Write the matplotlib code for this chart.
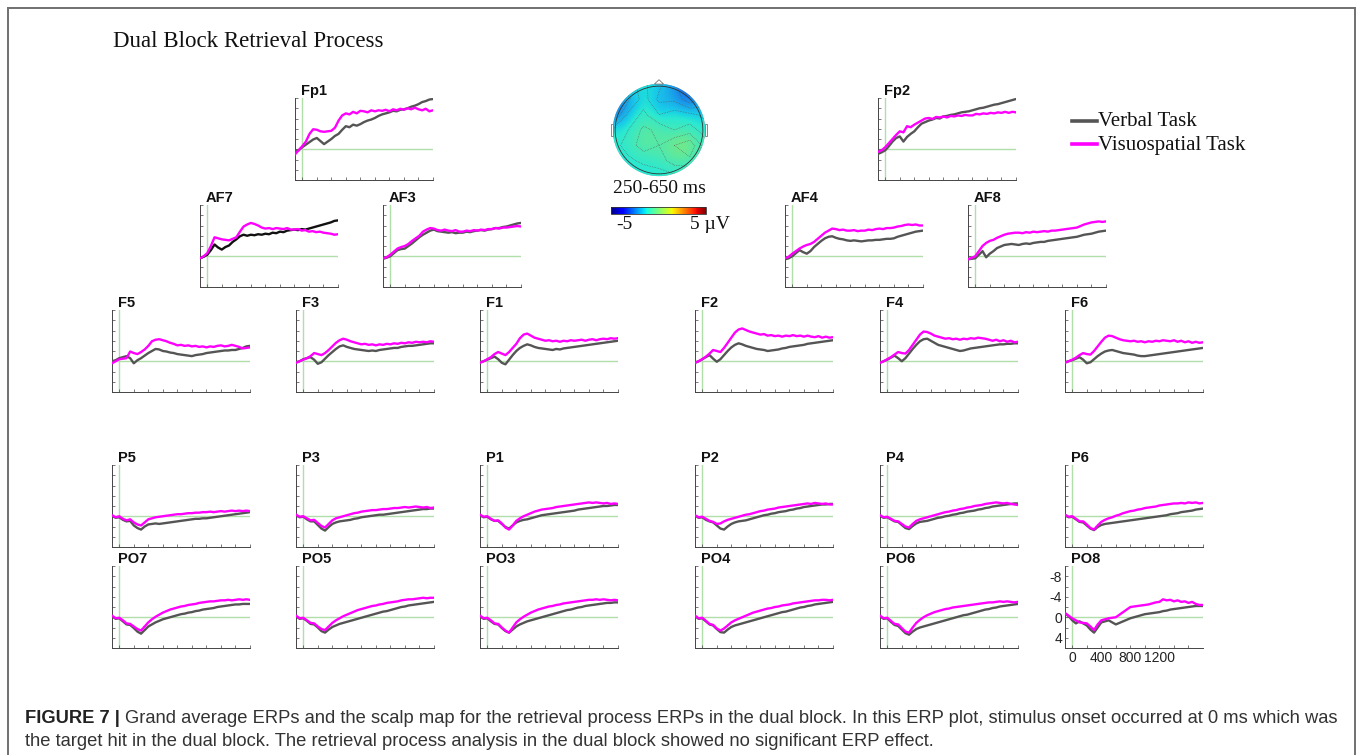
import numpy as np
import matplotlib
matplotlib.use("Agg")
import matplotlib.pyplot as plt
from matplotlib.lines import Line2D
from matplotlib.patches import Circle, Polygon, Rectangle

# ---------------------------------------------------------------- data
# sample times (ms) of the grand-average waveforms
time_ms = np.arange(-100, 1801, 50)

fp1_verbal = [0.4, 0.2, -0.4, -0.9, -1.4, -1.9, -2.2, -1.6, -1.0, -1.5, -2.0, -2.6, -3.0, -3.8, -4.5, -4.3, -4.8, -4.6, -4.9, -5.3, -5.6, -5.8, -6.1, -6.5, -6.8, -7.0, -7.2, -7.5, -7.4, -7.7, -7.8, -8.0, -8.3, -8.5, -8.8, -9.2, -9.4, -9.7, -9.8]
fp1_visuo = [1.0, 0.2, -0.6, -1.5, -3.0, -3.9, -3.8, -3.5, -3.4, -3.5, -3.6, -4.2, -5.6, -6.6, -7.0, -6.8, -7.3, -7.0, -7.5, -7.4, -7.2, -7.6, -7.4, -7.6, -7.5, -7.7, -7.4, -7.8, -7.6, -7.9, -7.7, -8.0, -7.8, -8.1, -7.8, -7.6, -7.9, -7.4, -7.6]

fp2_verbal = [0.9, 0.6, 0.2, -0.6, -1.5, -2.2, -2.5, -1.5, -2.4, -3.0, -3.5, -4.3, -5.0, -5.3, -5.6, -5.8, -6.1, -6.0, -6.4, -6.5, -6.7, -6.8, -7.0, -7.2, -7.3, -7.4, -7.6, -7.8, -8.0, -8.1, -8.3, -8.5, -8.7, -8.8, -9.0, -9.2, -9.4, -9.6, -9.8]
fp2_visuo = [0.5, 0.2, -0.4, -1.2, -2.0, -2.8, -3.5, -3.3, -4.5, -4.3, -4.8, -5.2, -5.6, -6.0, -6.1, -5.9, -6.3, -6.2, -6.4, -6.2, -6.5, -6.4, -6.6, -6.5, -6.7, -6.6, -6.6, -6.9, -6.8, -7.0, -6.9, -7.1, -7.0, -7.2, -7.1, -7.3, -7.1, -7.3, -7.2]

af7_verbal = [0.4, 0.1, -0.3, -1.2, -2.3, -1.7, -1.3, -1.8, -2.1, -2.8, -3.3, -3.9, -4.2, -4.0, -4.2, -4.1, -4.3, -4.2, -4.4, -4.3, -4.6, -4.5, -4.8, -4.7, -5.0, -5.1, -5.2, -5.1, -5.3, -5.2, -5.4, -5.6, -5.8, -6.0, -6.2, -6.4, -6.6, -6.9, -7.0]
af7_visuo = [0.4, 0.0, -0.6, -2.0, -3.7, -3.5, -3.3, -3.2, -3.1, -3.4, -3.7, -4.8, -5.8, -6.2, -6.5, -6.3, -6.0, -5.6, -5.4, -5.5, -5.3, -5.5, -5.4, -5.3, -5.5, -5.2, -5.2, -5.3, -5.0, -5.1, -4.8, -4.9, -4.7, -4.8, -4.6, -4.5, -4.4, -4.2, -4.3]

af3_verbal = [0.5, 0.3, 0.0, -0.6, -1.2, -1.4, -1.5, -2.0, -2.5, -3.1, -3.7, -4.2, -4.6, -5.0, -5.2, -4.9, -4.8, -4.7, -4.6, -4.7, -4.5, -4.6, -4.6, -4.8, -4.7, -4.9, -5.0, -5.1, -5.0, -5.2, -5.3, -5.5, -5.5, -5.7, -5.8, -6.0, -6.2, -6.4, -6.5]
af3_visuo = [0.4, 0.2, -0.3, -0.9, -1.5, -1.8, -2.0, -2.4, -3.0, -3.5, -4.0, -4.8, -5.2, -5.5, -5.4, -5.1, -5.0, -5.2, -5.0, -4.9, -5.1, -4.8, -4.8, -5.0, -4.9, -5.1, -5.0, -5.2, -5.1, -5.3, -5.3, -5.5, -5.4, -5.6, -5.6, -5.7, -5.8, -5.9, -5.8]

af4_verbal = [0.6, 0.4, 0.0, -0.6, -1.2, -0.8, -0.5, -1.0, -1.8, -2.4, -3.0, -3.5, -3.8, -3.9, -3.6, -3.4, -3.3, -3.1, -3.0, -3.1, -3.0, -2.9, -3.0, -3.1, -3.1, -3.2, -3.2, -3.3, -3.4, -3.4, -3.5, -3.8, -4.0, -4.2, -4.4, -4.6, -4.8, -4.9, -5.0]
af4_visuo = [0.4, 0.1, -0.5, -1.0, -1.5, -1.9, -2.2, -2.4, -2.8, -3.4, -4.0, -4.6, -5.0, -5.4, -5.3, -5.1, -5.2, -5.0, -5.0, -5.1, -4.9, -5.0, -5.0, -5.2, -5.1, -5.3, -5.4, -5.3, -5.5, -5.5, -5.6, -5.8, -5.9, -6.1, -6.2, -6.1, -6.2, -6.0, -6.0]

af8_verbal = [0.6, 0.5, 0.4, -0.3, -1.0, 0.2, -0.5, -1.0, -1.6, -1.9, -2.2, -2.3, -2.4, -2.3, -2.2, -2.4, -2.5, -2.4, -2.6, -2.7, -2.8, -2.8, -3.0, -3.1, -3.2, -3.3, -3.4, -3.5, -3.6, -3.7, -3.8, -4.0, -4.2, -4.3, -4.4, -4.6, -4.8, -4.9, -5.0]
af8_visuo = [0.6, 0.3, 0.0, -1.0, -2.0, -2.6, -3.0, -3.2, -3.6, -3.9, -4.2, -4.4, -4.5, -4.6, -4.6, -4.5, -4.7, -4.6, -4.8, -4.7, -4.8, -4.9, -4.8, -5.0, -5.0, -5.1, -5.2, -5.3, -5.4, -5.5, -5.6, -5.9, -6.2, -6.4, -6.6, -6.7, -6.8, -6.7, -6.8]

f5_verbal = [0.0, -0.2, -0.6, -0.8, -1.0, -0.6, 0.4, -0.2, -0.6, -1.1, -1.6, -2.0, -2.4, -2.3, -2.0, -1.9, -1.7, -1.6, -1.4, -1.3, -1.2, -1.1, -1.0, -1.2, -1.3, -1.4, -1.6, -1.7, -1.8, -1.9, -2.0, -2.1, -2.1, -2.2, -2.2, -2.4, -2.6, -2.9, -3.0]
f5_visuo = [0.4, 0.0, -0.4, -0.5, -0.6, -1.9, -1.6, -1.4, -1.8, -2.3, -3.0, -3.9, -4.2, -4.3, -4.1, -3.9, -3.6, -3.4, -3.1, -3.2, -3.0, -3.1, -2.9, -3.0, -2.8, -2.9, -2.7, -2.9, -2.8, -3.0, -3.1, -2.9, -3.0, -3.2, -3.0, -2.8, -2.5, -2.6, -2.7]

f3_verbal = [0.2, 0.0, -0.4, -0.6, -0.8, -0.3, 0.5, 0.2, -0.5, -1.2, -1.8, -2.4, -2.9, -3.1, -2.8, -2.6, -2.4, -2.3, -2.2, -2.1, -2.0, -2.1, -2.0, -2.2, -2.3, -2.4, -2.5, -2.6, -2.6, -2.8, -2.9, -3.0, -3.0, -3.1, -3.2, -3.3, -3.4, -3.5, -3.5]
f3_visuo = [0.3, 0.0, -0.3, -0.6, -1.0, -1.6, -1.4, -1.2, -1.6, -2.2, -2.9, -3.6, -4.1, -4.4, -4.2, -3.9, -3.7, -3.5, -3.3, -3.4, -3.2, -3.3, -3.1, -3.3, -3.2, -3.4, -3.3, -3.5, -3.4, -3.6, -3.5, -3.7, -3.6, -3.8, -3.7, -3.8, -3.7, -3.9, -3.8]

f1_verbal = [0.2, 0.0, -0.3, -0.6, -0.9, -0.4, 0.3, 0.6, -0.3, -1.2, -2.0, -2.6, -3.0, -3.3, -3.1, -2.8, -2.6, -2.5, -2.4, -2.3, -2.2, -2.4, -2.3, -2.5, -2.6, -2.7, -2.8, -2.9, -3.0, -3.1, -3.2, -3.3, -3.4, -3.5, -3.6, -3.7, -3.8, -3.9, -4.0]
f1_visuo = [0.3, 0.0, -0.4, -0.8, -1.4, -1.8, -1.5, -1.2, -1.8, -2.6, -3.4, -4.5, -5.2, -5.4, -5.0, -4.6, -4.4, -4.2, -4.0, -4.1, -3.9, -4.0, -3.8, -4.0, -3.9, -4.1, -4.0, -4.1, -4.2, -4.0, -4.2, -4.3, -4.1, -4.3, -4.4, -4.3, -4.5, -4.4, -4.5]

f2_verbal = [0.3, 0.0, -0.4, -0.8, -1.2, -0.5, 0.1, -0.4, -1.2, -2.0, -2.7, -3.2, -3.5, -3.3, -3.0, -2.8, -2.6, -2.4, -2.3, -2.2, -2.0, -2.1, -2.2, -2.3, -2.5, -2.6, -2.8, -2.9, -3.0, -3.1, -3.2, -3.4, -3.5, -3.6, -3.7, -3.8, -3.9, -4.0, -4.1]
f2_visuo = [0.3, 0.0, -0.4, -0.9, -1.5, -2.2, -2.0, -1.8, -2.6, -3.6, -4.6, -5.6, -6.2, -6.4, -6.1, -5.8, -5.6, -5.4, -5.2, -5.3, -5.0, -5.1, -4.9, -5.0, -4.8, -5.0, -4.9, -5.1, -4.9, -5.0, -4.8, -5.0, -4.8, -4.7, -4.9, -4.6, -4.8, -4.6, -4.7]

f4_verbal = [0.3, 0.0, -0.3, -0.7, -1.1, -0.6, 0.0, -0.6, -1.5, -2.4, -3.2, -3.9, -4.3, -4.4, -4.0, -3.6, -3.2, -3.0, -2.8, -2.6, -2.4, -2.2, -2.0, -2.1, -2.3, -2.5, -2.6, -2.7, -2.8, -2.9, -3.0, -3.1, -3.2, -3.3, -3.3, -3.4, -3.4, -3.5, -3.5]
f4_visuo = [0.3, 0.0, -0.4, -0.8, -1.3, -1.8, -1.6, -1.5, -2.2, -3.2, -4.2, -5.2, -5.8, -5.7, -5.4, -5.0, -4.8, -4.6, -4.4, -4.5, -4.3, -4.4, -4.2, -4.4, -4.3, -4.5, -4.4, -4.6, -4.5, -4.4, -4.2, -4.0, -4.2, -3.9, -4.1, -3.8, -4.0, -3.7, -3.8]

f6_verbal = [0.2, 0.0, -0.2, -0.5, -0.8, -0.3, 0.4, 0.2, -0.4, -1.0, -1.5, -1.9, -2.1, -2.2, -2.0, -1.8, -1.6, -1.5, -1.4, -1.3, -1.1, -1.0, -1.0, -1.1, -1.2, -1.3, -1.4, -1.5, -1.6, -1.7, -1.8, -1.9, -2.0, -2.1, -2.2, -2.3, -2.4, -2.5, -2.6]
f6_visuo = [0.3, 0.0, -0.3, -0.7, -1.2, -1.6, -1.4, -1.3, -2.0, -2.9, -3.8, -4.6, -5.0, -4.9, -4.6, -4.3, -4.1, -4.0, -3.9, -4.0, -3.8, -3.9, -3.7, -3.9, -3.8, -4.0, -3.9, -4.1, -4.0, -3.9, -4.1, -3.8, -4.0, -3.7, -3.9, -3.6, -3.8, -3.6, -3.7]

p5_verbal = [-0.1, 0.3, 0.2, 0.7, 1.0, 0.9, 1.8, 2.3, 2.6, 2.0, 1.6, 1.5, 1.4, 1.5, 1.4, 1.3, 1.2, 1.1, 1.0, 0.9, 0.8, 0.7, 0.6, 0.5, 0.5, 0.4, 0.4, 0.3, 0.2, 0.1, 0.0, -0.1, -0.2, -0.3, -0.4, -0.5, -0.6, -0.7, -0.8]
p5_visuo = [-0.2, 0.2, 0.0, 0.5, 0.8, 0.6, 1.2, 1.6, 1.8, 1.2, 0.6, 0.4, 0.2, 0.1, 0.0, -0.1, -0.2, -0.3, -0.4, -0.4, -0.5, -0.6, -0.6, -0.7, -0.7, -0.8, -0.8, -0.9, -0.8, -0.9, -1.0, -0.9, -1.0, -1.1, -1.0, -1.1, -1.0, -1.1, -1.0]

p3_verbal = [-0.2, 0.2, 0.1, 0.6, 1.0, 1.0, 1.7, 2.4, 2.8, 2.1, 1.5, 1.2, 1.0, 0.9, 0.8, 0.7, 0.5, 0.4, 0.2, 0.1, 0.0, -0.1, -0.2, -0.3, -0.3, -0.4, -0.5, -0.6, -0.7, -0.8, -0.9, -1.0, -1.1, -1.2, -1.3, -1.4, -1.4, -1.5, -1.5]
p3_visuo = [-0.3, 0.1, 0.0, 0.4, 0.8, 0.7, 1.3, 1.9, 2.2, 1.5, 0.8, 0.4, 0.2, 0.0, -0.2, -0.4, -0.6, -0.7, -0.9, -1.0, -1.1, -1.2, -1.2, -1.3, -1.4, -1.4, -1.5, -1.6, -1.6, -1.7, -1.8, -1.7, -1.8, -1.9, -1.8, -1.7, -1.8, -1.6, -1.7]

p1_verbal = [-0.2, 0.2, 0.1, 0.6, 0.9, 0.9, 1.5, 2.1, 2.4, 1.8, 1.2, 0.9, 0.7, 0.6, 0.4, 0.2, 0.0, -0.2, -0.3, -0.4, -0.5, -0.6, -0.7, -0.8, -0.9, -1.0, -1.1, -1.3, -1.4, -1.5, -1.6, -1.7, -1.8, -1.9, -2.0, -2.0, -2.1, -2.2, -2.2]
p1_visuo = [-0.3, 0.1, 0.0, 0.5, 0.9, 0.8, 1.4, 2.2, 2.6, 1.8, 0.9, 0.4, 0.0, -0.3, -0.6, -0.9, -1.1, -1.3, -1.4, -1.5, -1.6, -1.8, -1.9, -2.0, -2.1, -2.2, -2.3, -2.4, -2.5, -2.6, -2.7, -2.6, -2.7, -2.6, -2.5, -2.6, -2.4, -2.5, -2.4]

p2_verbal = [-0.1, 0.3, 0.2, 0.7, 1.0, 1.2, 1.8, 2.4, 2.6, 2.0, 1.5, 1.2, 1.0, 0.9, 0.8, 0.6, 0.4, 0.2, 0.0, -0.2, -0.3, -0.5, -0.6, -0.8, -0.9, -1.0, -1.2, -1.3, -1.5, -1.6, -1.8, -1.9, -2.0, -2.1, -2.2, -2.3, -2.3, -2.4, -2.4]
p2_visuo = [-0.2, 0.2, 0.1, 0.5, 0.9, 1.1, 1.5, 1.4, 1.0, 0.7, 0.5, 0.3, 0.1, -0.1, -0.3, -0.4, -0.6, -0.8, -1.0, -1.1, -1.3, -1.4, -1.5, -1.7, -1.8, -1.9, -2.0, -2.1, -2.2, -2.3, -2.4, -2.5, -2.4, -2.6, -2.5, -2.4, -2.5, -2.3, -2.3]

p4_verbal = [-0.1, 0.3, 0.2, 0.6, 1.0, 1.1, 1.7, 2.3, 2.5, 1.9, 1.4, 1.1, 1.0, 0.9, 0.7, 0.5, 0.3, 0.2, 0.0, -0.1, -0.3, -0.4, -0.6, -0.7, -0.9, -1.0, -1.1, -1.3, -1.4, -1.6, -1.7, -1.9, -2.0, -2.1, -2.2, -2.3, -2.4, -2.5, -2.5]
p4_visuo = [-0.2, 0.2, 0.1, 0.5, 0.9, 1.0, 1.5, 2.0, 2.2, 1.5, 0.9, 0.6, 0.4, 0.2, 0.0, -0.2, -0.4, -0.6, -0.8, -0.9, -1.1, -1.2, -1.4, -1.5, -1.7, -1.8, -2.0, -2.1, -2.2, -2.4, -2.5, -2.6, -2.7, -2.6, -2.5, -2.6, -2.4, -2.3, -2.2]

p6_verbal = [-0.2, 0.2, 0.1, 0.6, 1.1, 1.2, 1.8, 2.4, 2.7, 2.1, 1.7, 1.5, 1.4, 1.3, 1.2, 1.1, 1.0, 0.9, 0.8, 0.7, 0.6, 0.5, 0.4, 0.3, 0.2, 0.1, 0.0, -0.1, -0.2, -0.4, -0.5, -0.6, -0.8, -0.9, -1.0, -1.1, -1.3, -1.4, -1.5]
p6_visuo = [-0.3, 0.1, 0.0, 0.5, 1.0, 1.0, 1.6, 2.3, 2.6, 1.8, 1.1, 0.7, 0.4, 0.2, -0.1, -0.3, -0.6, -0.8, -1.0, -1.1, -1.3, -1.4, -1.6, -1.7, -1.8, -1.9, -2.1, -2.2, -2.3, -2.4, -2.5, -2.5, -2.6, -2.5, -2.7, -2.6, -2.7, -2.5, -2.6]

po7_verbal = [-0.2, 0.3, 0.2, 0.8, 1.4, 1.5, 2.1, 2.8, 3.2, 2.5, 1.8, 1.4, 1.0, 0.7, 0.4, 0.2, 0.0, -0.2, -0.4, -0.6, -0.7, -0.9, -1.0, -1.2, -1.3, -1.5, -1.6, -1.7, -1.8, -2.0, -2.1, -2.2, -2.3, -2.4, -2.5, -2.5, -2.6, -2.6, -2.6]
po7_visuo = [-0.3, 0.2, 0.1, 0.6, 1.2, 1.3, 1.8, 2.3, 2.6, 1.8, 1.0, 0.4, -0.1, -0.5, -0.9, -1.2, -1.5, -1.7, -1.9, -2.1, -2.2, -2.4, -2.5, -2.6, -2.8, -2.9, -3.0, -3.1, -3.1, -3.2, -3.3, -3.3, -3.4, -3.3, -3.4, -3.5, -3.4, -3.5, -3.4]

po5_verbal = [-0.2, 0.3, 0.2, 0.7, 1.3, 1.4, 2.0, 2.7, 3.0, 2.4, 1.9, 1.6, 1.3, 1.1, 0.9, 0.7, 0.5, 0.3, 0.1, -0.1, -0.3, -0.5, -0.7, -0.9, -1.1, -1.2, -1.4, -1.6, -1.8, -2.0, -2.1, -2.3, -2.4, -2.5, -2.6, -2.7, -2.8, -2.9, -3.0]
po5_visuo = [-0.3, 0.2, 0.1, 0.6, 1.1, 1.2, 1.8, 2.3, 2.5, 1.8, 1.1, 0.6, 0.2, -0.2, -0.5, -0.8, -1.1, -1.4, -1.6, -1.8, -2.0, -2.2, -2.3, -2.5, -2.6, -2.8, -2.9, -3.0, -3.1, -3.3, -3.4, -3.5, -3.5, -3.6, -3.7, -3.8, -3.7, -3.8, -3.8]

po3_verbal = [-0.2, 0.3, 0.2, 0.8, 1.3, 1.4, 2.1, 2.7, 3.0, 2.4, 1.8, 1.4, 1.1, 0.8, 0.6, 0.4, 0.2, 0.0, -0.2, -0.4, -0.6, -0.8, -1.0, -1.2, -1.4, -1.5, -1.7, -1.9, -2.0, -2.2, -2.3, -2.4, -2.5, -2.6, -2.7, -2.8, -2.8, -2.9, -2.9]
po3_visuo = [-0.3, 0.2, 0.1, 0.6, 1.2, 1.3, 2.0, 2.6, 3.0, 2.0, 1.0, 0.4, -0.1, -0.5, -0.9, -1.2, -1.5, -1.7, -1.9, -2.1, -2.2, -2.4, -2.5, -2.7, -2.8, -2.9, -3.0, -3.1, -3.2, -3.3, -3.4, -3.4, -3.5, -3.4, -3.5, -3.4, -3.3, -3.4, -3.3]

po4_verbal = [-0.2, 0.3, 0.2, 0.8, 1.4, 1.6, 2.3, 2.9, 3.0, 2.4, 1.9, 1.6, 1.4, 1.2, 1.0, 0.8, 0.6, 0.4, 0.2, 0.0, -0.2, -0.4, -0.6, -0.8, -1.0, -1.1, -1.3, -1.5, -1.7, -1.9, -2.0, -2.2, -2.3, -2.5, -2.6, -2.7, -2.8, -2.9, -3.0]
po4_visuo = [-0.3, 0.2, 0.1, 0.7, 1.3, 1.5, 2.2, 2.6, 2.2, 1.6, 1.0, 0.6, 0.3, 0.0, -0.3, -0.6, -0.9, -1.1, -1.3, -1.5, -1.7, -1.8, -2.0, -2.1, -2.3, -2.4, -2.5, -2.7, -2.8, -2.9, -3.0, -3.1, -3.2, -3.3, -3.3, -3.4, -3.4, -3.3, -3.4]

po6_verbal = [-0.2, 0.3, 0.2, 0.9, 1.5, 1.7, 2.4, 3.1, 3.4, 2.8, 2.3, 2.0, 1.8, 1.6, 1.4, 1.2, 1.0, 0.8, 0.6, 0.4, 0.2, 0.0, -0.2, -0.4, -0.5, -0.7, -0.9, -1.1, -1.3, -1.5, -1.6, -1.8, -1.9, -2.1, -2.2, -2.3, -2.4, -2.5, -2.6]
po6_visuo = [-0.3, 0.2, 0.1, 0.7, 1.3, 1.4, 2.1, 2.8, 3.0, 2.0, 1.1, 0.5, 0.0, -0.4, -0.7, -1.0, -1.2, -1.4, -1.6, -1.7, -1.9, -2.0, -2.1, -2.2, -2.3, -2.4, -2.5, -2.6, -2.7, -2.8, -2.9, -2.9, -3.0, -3.1, -3.0, -3.1, -3.0, -2.9, -3.0]

po8_verbal = [-0.8, -0.2, 0.6, 1.2, 0.8, 1.2, 1.6, 2.4, 3.0, 2.0, 1.0, 0.8, 0.6, 1.0, 1.4, 1.1, 0.8, 0.5, 0.2, 0.0, -0.2, -0.4, -0.6, -0.7, -0.8, -0.9, -1.0, -1.2, -1.3, -1.5, -1.6, -1.7, -1.8, -1.9, -2.0, -2.1, -2.2, -2.2, -2.2]
po8_visuo = [-0.8, -0.3, 0.2, 0.6, 1.0, 1.1, 1.2, 1.8, 2.5, 1.4, 0.6, 0.4, 0.2, 0.1, 0.0, -0.5, -1.0, -1.5, -2.0, -2.1, -2.2, -2.3, -2.4, -2.5, -2.7, -2.9, -3.0, -3.5, -3.3, -3.4, -3.1, -3.3, -3.0, -3.1, -2.8, -3.0, -2.6, -2.4, -2.4]

# scalp distribution, 250-650 ms mean amplitude (uV); rows front -> back, columns left -> right
topo_values = [
    [-1.3, -1.5, -1.3, -1.7, -2.1, -3.0, -2.6],
    [-2.6, -1.9, -1.2, -1.9, -1.9, -2.5, -2.1],
    [-2.3, -1.3, -0.9, -1.4, -1.2, -1.3, -1.5],
    [-1.3, -1.0, -0.5, -0.7, -1.0, -0.8, -1.2],
    [-1.2, -0.8, -0.4, -0.6, -0.2, 0.1, -0.8],
    [-1.3, -1.1, -0.9, -0.8, -0.4, -0.3, -1.0],
    [-1.5, -1.3, -1.3, -1.2, -1.1, -1.1, -1.4],
]

scale_labels = ["-5", "5 \u00b5V"]
po8_yticks = [-8, -4, 0, 4]
po8_xticks = [0, 400, 800, 1200]
legend_labels = ["Verbal Task", "Visuospatial Task"]

# ---------------------------------------------------------------- style
VERBAL = "#555555"
VISUO = "#ff00ff"
ZERO = "#b2deaa"
AXIS = "#444444"
SERIF = ["Liberation Serif", "DejaVu Serif"]
SANS = ["Liberation Sans", "DejaVu Sans"]

plt.rcParams["font.family"] = SANS

FW, FH = 1360, 755
fig = plt.figure(figsize=(FW / 100, FH / 100), dpi=100)
fig.patch.set_facecolor("white")


def px_axes(x, y, w, h):
    return fig.add_axes([x / FW, 1 - (y + h) / FH, w / FW, h / FH])


PW, PH = 138, 82
panels = [
    ("Fp1", 295, 98, fp1_verbal, fp1_visuo),
    ("Fp2", 878, 98, fp2_verbal, fp2_visuo),
    ("AF7", 200, 205, af7_verbal, af7_visuo),
    ("AF3", 383, 205, af3_verbal, af3_visuo),
    ("AF4", 785, 205, af4_verbal, af4_visuo),
    ("AF8", 968, 205, af8_verbal, af8_visuo),
    ("F5", 112, 310, f5_verbal, f5_visuo),
    ("F3", 296, 310, f3_verbal, f3_visuo),
    ("F1", 480, 310, f1_verbal, f1_visuo),
    ("F2", 695, 310, f2_verbal, f2_visuo),
    ("F4", 880, 310, f4_verbal, f4_visuo),
    ("F6", 1065, 310, f6_verbal, f6_visuo),
    ("P5", 112, 465, p5_verbal, p5_visuo),
    ("P3", 296, 465, p3_verbal, p3_visuo),
    ("P1", 480, 465, p1_verbal, p1_visuo),
    ("P2", 695, 465, p2_verbal, p2_visuo),
    ("P4", 880, 465, p4_verbal, p4_visuo),
    ("P6", 1065, 465, p6_verbal, p6_visuo),
    ("PO7", 112, 566, po7_verbal, po7_visuo),
    ("PO5", 296, 566, po5_verbal, po5_visuo),
    ("PO3", 480, 566, po3_verbal, po3_visuo),
    ("PO4", 695, 566, po4_verbal, po4_visuo),
    ("PO6", 880, 566, po6_verbal, po6_visuo),
    ("PO8", 1065, 566, po8_verbal, po8_visuo),
]

for name, x, y, verbal, visuo in panels:
    ax = px_axes(x, y, PW, PH)
    ax.set_facecolor("none")
    ax.axhline(0, color=ZERO, lw=1.0, zorder=1)
    ax.axvline(0, color=ZERO, lw=1.0, zorder=1)
    vcol = "#111111" if name == "AF7" else VERBAL
    ax.plot(time_ms, verbal, color=vcol, lw=1.7, zorder=3)
    ax.plot(time_ms, visuo, color=VISUO, lw=1.7, zorder=4)
    ax.set_xlim(-100, 1800)
    ax.set_ylim(6, -10)
    for s in ("top", "right"):
        ax.spines[s].set_visible(False)
    for s in ("left", "bottom"):
        ax.spines[s].set_color(AXIS)
        ax.spines[s].set_linewidth(0.7)
    ax.tick_params(direction="in", length=2, width=0.5, colors=AXIS,
                   labelsize=10, pad=2)
    if name == "PO8":
        ax.set_yticks(po8_yticks)
        ax.set_yticklabels([str(v) for v in po8_yticks])
        ax.set_xticks(po8_xticks)
        ax.set_xticklabels([str(v) for v in po8_xticks])
        ax.set_yticks([-10, -6, -2, 2, 6], minor=True)
        ax.set_xticks([200, 600, 1000, 1400, 1600], minor=True)
        ax.tick_params(which="minor", direction="in", length=2, width=0.5, colors=AXIS)
        ax.tick_params(labelcolor="#222222")
    else:
        ax.set_xticks(range(0, 1801, 200))
        ax.set_yticks(range(-10, 7, 2))
        ax.set_xticklabels([])
        ax.set_yticklabels([])
    fig.text((x + 6) / FW, 1 - (y - 3) / FH, name, fontsize=10.5,
             fontweight="bold", color="#111111", va="baseline", ha="left")

# ---------------------------------------------------------------- scalp map
ax_t = px_axes(605, 76, 108, 108)
ax_t.set_xlim(-1.17, 1.17)
ax_t.set_ylim(-1.17, 1.17)
ax_t.axis("off")
vals = np.array(topo_values)
# muted backing disk so the map reads slightly desaturated
ax_t.add_patch(Circle((0, 0), 1.0, fc="#7f8f94", ec="none", zorder=0))
im = ax_t.imshow(vals, extent=[-1, 1, -1, 1], origin="upper", cmap="jet",
                 vmin=-5, vmax=5, interpolation="bicubic", alpha=0.8, zorder=1)
disk = Circle((0, 0), 1.0, transform=ax_t.transData)
im.set_clip_path(disk)
gx = np.linspace(-1, 1, vals.shape[1])
gy = np.linspace(1, -1, vals.shape[0])
cs = ax_t.contour(gx, gy[::-1], vals[::-1], levels=np.arange(-2.6, 0.6, 0.4),
                  colors="#555555", linewidths=0.45, linestyles=":", zorder=2)
cs.set_clip_path(disk)
ax_t.add_patch(Circle((0, 0), 0.95, fill=False, ec="#333333", lw=0.6, zorder=3))
ax_t.add_patch(Polygon([[-0.1, 0.995], [0.0, 1.09], [0.1, 0.995]], closed=True,
                       fc="white", ec="#777777", lw=0.6, zorder=3))
ax_t.add_patch(Rectangle((-1.05, -0.14), 0.05, 0.28, fc="white", ec="#777777",
                         lw=0.6, zorder=3))
ax_t.add_patch(Rectangle((1.0, -0.14), 0.05, 0.28, fc="white", ec="#777777",
                         lw=0.6, zorder=3))

fig.text(659 / FW, 1 - 193 / FH, "250-650 ms", family=SERIF, fontsize=14,
         ha="center", va="baseline", color="#111111")

ax_cb = px_axes(611, 207, 95, 7)
cb = fig.colorbar(plt.cm.ScalarMappable(norm=im.norm, cmap="jet"), cax=ax_cb,
                  orientation="horizontal")
cb.set_ticks([])
cb.outline.set_linewidth(0.6)
cb.outline.set_edgecolor("#333333")
fig.text(624 / FW, 1 - 229 / FH, scale_labels[0], family=SERIF, fontsize=14,
         ha="center", va="baseline", color="#111111")
fig.text(690 / FW, 1 - 229 / FH, scale_labels[1], family=SERIF, fontsize=14,
         ha="left", va="baseline", color="#111111")

# ---------------------------------------------------------------- legend
for label, col, ly, ty in ((legend_labels[0], VERBAL, 121, 126),
                           (legend_labels[1], VISUO, 144, 150)):
    fig.add_artist(Line2D([1072 / FW, 1097 / FW], [1 - ly / FH, 1 - ly / FH],
                          color=col, lw=2.6, transform=fig.transFigure))
    fig.text(1098 / FW, 1 - ty / FH, label, family=SERIF, fontsize=15,
             ha="left", va="baseline", color="#111111")

# ---------------------------------------------------------------- title
fig.text(113 / FW, 1 - 47 / FH, "Dual Block Retrieval Process", family=SERIF,
         fontsize=16.5, ha="left", va="baseline", color="#111111")

# ---------------------------------------------------------------- frame
frame_kw = dict(color="#707070", lw=1.4, transform=fig.transFigure)
fig.add_artist(Line2D([8 / FW, 8 / FW], [0, 1 - 8 / FH], **frame_kw))
fig.add_artist(Line2D([1355 / FW, 1355 / FW], [0, 1 - 8 / FH], **frame_kw))
fig.add_artist(Line2D([8 / FW, 1355 / FW], [1 - 8 / FH, 1 - 8 / FH], **frame_kw))

# ---------------------------------------------------------------- caption
cap_bold = "FIGURE 7 | "
cap_line1 = ("Grand average ERPs and the scalp map for the retrieval process ERPs in the dual block. "
             "In this ERP plot, stimulus onset occurred at 0 ms which was")
cap_line2 = ("the target hit in the dual block. The retrieval process analysis in the dual block "
             "showed no significant ERP effect.")
t_bold = fig.text(25 / FW, 1 - 723 / FH, cap_bold, fontsize=13.2, fontweight="bold",
                  ha="left", va="baseline", color="#222222")
fig.canvas.draw()
bb = t_bold.get_window_extent(renderer=fig.canvas.get_renderer())
fig.text(bb.x1 / FW, 1 - 723 / FH, cap_line1, fontsize=13.2, ha="left",
         va="baseline", color="#333333")
fig.text(25 / FW, 1 - 746 / FH, cap_line2, fontsize=13.2, ha="left",
         va="baseline", color="#333333")

fig.savefig("out.png", dpi=100, facecolor="white")
